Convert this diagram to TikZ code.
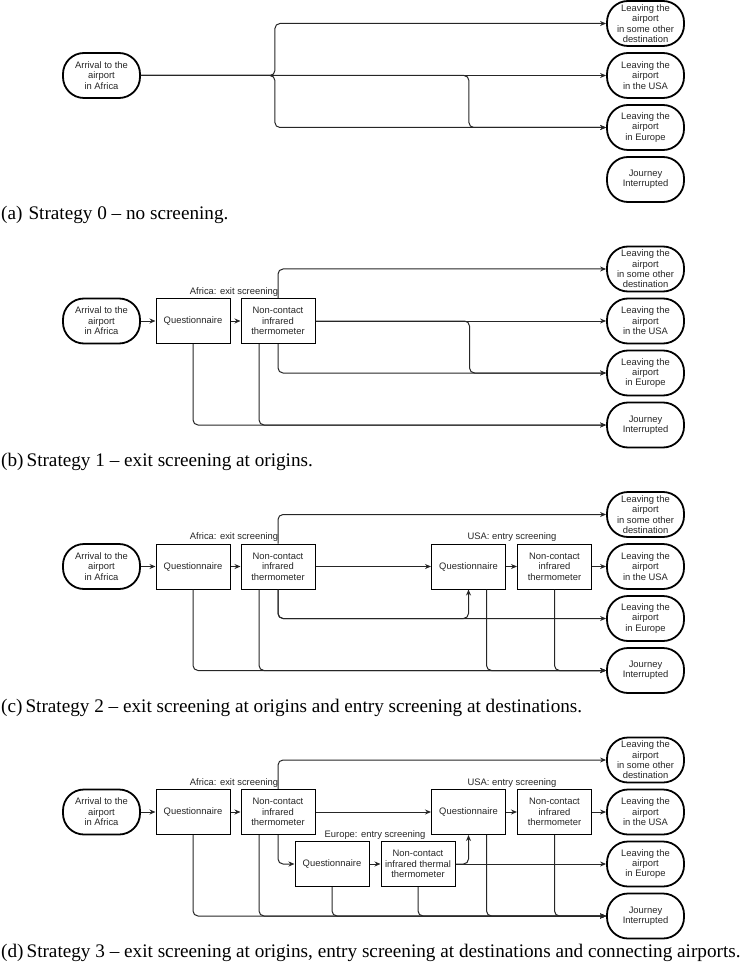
\documentclass[tikz,border=0pt]{standalone}
\usepackage{fontspec}
\setmainfont{Liberation Serif}
\newfontfamily\diafont{Liberation Sans}
\usetikzlibrary{arrows.meta}

\begin{document}
\begin{tikzpicture}[x=1pt,y=-1pt,
		dia/.style={font=\diafont\fontsize{9.4}{10.4}\selectfont,text=black!85},
		term/.style={dia,draw,line width=1.8pt,rounded corners=21pt,minimum width=77pt,minimum height=45pt,inner sep=0pt,align=center},
		box/.style={dia,draw,line width=1pt,minimum width=74pt,minimum height=45pt,inner sep=0pt,align=center},
		lab/.style={dia,inner sep=0pt},
		flow/.style={draw=black!85,line width=1pt,rounded corners=5pt,-{Stealth[length=6pt,width=5pt]}},
		capt/.style={anchor=base west,inner sep=0pt,font=\fontsize{19.2}{22}\selectfont}]
	\useasboundingbox (0,0) rectangle (740,965);
	% start and end points, the same in every strategy
	\foreach \p/\y in {a/23.5,b/269,c/514.5,d/760}{
		\node[term] (\p-oth) at (645.5,\y) {Leaving the\\airport\\in some other\\destination};
		\node[term] (\p-usa) at (645.5,\y+52) {Leaving the\\airport\\in the USA};
		\node[term] (\p-eur) at (645.5,\y+104) {Leaving the\\airport\\in Europe};
		\node[term] (\p-jny) at (645.5,\y+156) {Journey\\Interrupted};
		\node[term] (\p-arr) at (101.5,\y+52) {Arrival to the\\airport\\in Africa};
	}
	
	% (a) no screening
	\draw[flow] (a-arr) -- (a-usa);
	\draw[flow] (a-arr.east) -- ++(134,0) |- (a-oth.west);
	\draw[flow] (a-arr.east) -- ++(134,0) |- (a-eur.west);
	\draw[flow] (a-arr.east) -- ++(328,0) |- (a-eur.west);
	\node[capt] (a-cap) at (1,220) {(a)\hspace{6pt}Strategy 0 \textendash{} no screening.};
	
	% (b) exit screening
	\node[box] (b-aq) at (193,321) {Questionnaire};
	\node[box] (b-at) at (278,321) {Non-contact\\infrared\\thermometer};
	\node[lab] (b-afr) at (234,292) {Africa: exit screening};
	\draw[flow] (b-arr) -- (b-aq);
	\draw[flow] (b-aq) -- (b-at);
	\draw[flow] (b-at) -- (b-usa);
	\draw[flow] (b-at.north) |- (b-oth.west);
	\draw[flow] (b-at.south) |- (b-eur.west);
	\draw[flow] (b-at.east) -- ++(154,0) |- (b-eur.west);
	\draw[flow] (b-aq.south) |- (b-jny.west);
	\draw[flow] ([xshift=-19pt]b-at.south) |- (b-jny.west);
	\node[capt] (b-cap) at (1,466.5) {(b)\hspace{3pt}Strategy 1 \textendash{} exit screening at origins.};
	
	% (c) exit and entry screening
	\node[box] (c-aq) at (193,566.5) {Questionnaire};
	\node[box] (c-at) at (278,566.5) {Non-contact\\infrared\\thermometer};
	\node[box] (c-uq) at (468.5,566.5) {Questionnaire};
	\node[box] (c-ut) at (554.5,566.5) {Non-contact\\infrared\\thermometer};
	\node[lab] (c-afr) at (234,537.5) {Africa: exit screening};
	\node[lab] (c-usl) at (512,537.5) {USA: entry screening};
	\draw[flow] (c-arr) -- (c-aq);
	\draw[flow] (c-aq) -- (c-at);
	\draw[flow] (c-at) -- (c-uq);
	\draw[flow] (c-uq) -- (c-ut);
	\draw[flow] (c-ut) -- (c-usa);
	\draw[flow] (c-at.north) |- (c-oth.west);
	\draw[flow] (c-at.south) |- (c-eur.west);
	\draw[flow] (c-at.south) |- (c-uq.south |- c-eur.west) -- (c-uq.south);
	\draw[flow] (c-aq.south) |- (c-jny.west);
	\draw[flow] ([xshift=-19pt]c-at.south) |- (c-jny.west);
	\draw[flow] ([xshift=18pt]c-uq.south) |- (c-jny.west);
	\draw[flow] (c-ut.south) |- (c-jny.west);
	\node[capt] (c-cap) at (1,712) {(c)\hspace{3pt}Strategy 2 \textendash{} exit screening at origins and entry screening at destinations.};
	
	% (d) exit, entry and connecting screening
	\node[box] (d-aq) at (193,812) {Questionnaire};
	\node[box] (d-at) at (278,812) {Non-contact\\infrared\\thermometer};
	\node[box] (d-uq) at (468.5,812) {Questionnaire};
	\node[box] (d-ut) at (554.5,812) {Non-contact\\infrared\\thermometer};
	\node[box] (d-eq) at (332,864) {Questionnaire};
	\node[box] (d-et) at (418,864) {Non-contact\\infrared thermal\\thermometer};
	\node[lab] (d-afr) at (234,783) {Africa: exit screening};
	\node[lab] (d-usl) at (512,783) {USA: entry screening};
	\node[lab] (d-eul) at (375,835) {Europe: entry screening};
	\draw[flow] (d-arr) -- (d-aq);
	\draw[flow] (d-aq) -- (d-at);
	\draw[flow] (d-at) -- (d-uq);
	\draw[flow] (d-uq) -- (d-ut);
	\draw[flow] (d-ut) -- (d-usa);
	\draw[flow] (d-at.north) |- (d-oth.west);
	\draw[flow] (d-at.south) |- (d-eq.west);
	\draw[flow] (d-eq) -- (d-et);
	\draw[flow] (d-et) -- (d-eur);
	\draw[flow] (d-et.east) -| (d-uq.south);
	\draw[flow] (d-aq.south) |- (d-jny.west);
	\draw[flow] ([xshift=-19pt]d-at.south) |- (d-jny.west);
	\draw[flow] (d-eq.south) |- (d-jny.west);
	\draw[flow] (d-et.south) |- (d-jny.west);
	\draw[flow] ([xshift=18pt]d-uq.south) |- (d-jny.west);
	\draw[flow] (d-ut.south) |- (d-jny.west);
	\node[capt] (d-cap) at (1,957.5) {(d)\hspace{3pt}Strategy 3 \textendash{} exit screening at origins, entry screening at destinations and connecting airports.};
\end{tikzpicture}
\end{document}
